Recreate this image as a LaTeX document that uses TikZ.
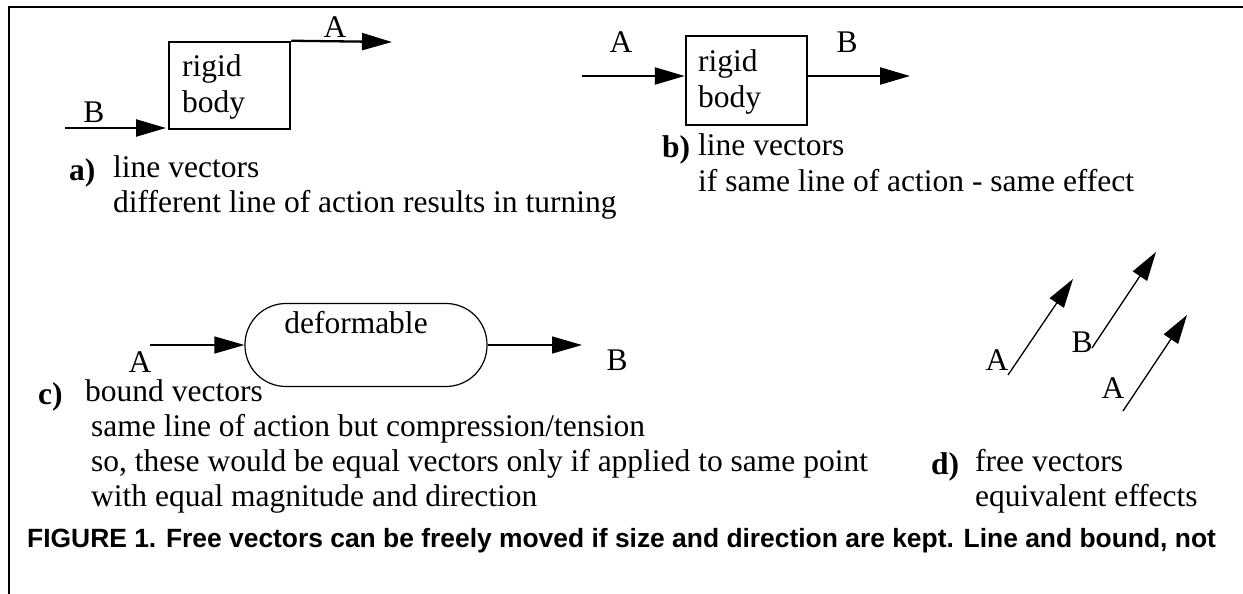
\documentclass[tikz,border=0pt]{standalone}
\usepackage{fontspec}
\setmainfont{Liberation Serif}
\newfontfamily\capfont{Liberation Sans}
\usetikzlibrary{arrows.meta}
\tikzset{
  txt/.style={anchor=base west, inner sep=0pt, font=\fontsize{31.5}{35}\selectfont},
  lbl/.style={anchor=base, inner sep=0pt, font=\fontsize{31.5}{35}\selectfont},
  tag/.style={anchor=base west, inner sep=0pt, font=\fontsize{31.5}{35}\selectfont\bfseries},
  bodybox/.style={draw, line width=2.5pt, minimum width=121pt, minimum height=87pt, inner sep=0pt},
  thickvec/.style={line width=2.3pt, -{Triangle[length=30pt,width=17pt]}},
  thinvec/.style={line width=1.3pt, -{Triangle[length=30pt,width=17pt]}},
  freevec/.style={line width=1.3pt, -{Triangle[length=29pt,width=17pt]}},
  stadium/.style={draw, line width=1.2pt, rounded corners=41pt, minimum width=242pt, minimum height=83pt, inner sep=0pt},
  frameline/.style={line width=2.5pt}
}
\begin{document}
\begin{tikzpicture}[x=1pt, y=-1pt]
\useasboundingbox (0,0) rectangle (1243,594);
% frame
\coordinate (fTL) at (9,7);
\coordinate (fTR) at (1243,7);
\coordinate (fBL) at (9,594);
\draw[frameline] (fTR) -- (fTL) -- (fBL);

% ---------- panel a ----------
\node[bodybox] (boxa) at (229.5,85.5) {};
\node[txt] (arig) at (182,77) {rigid};
\node[txt] (abod) at (182,112) {body};
\coordinate (aBstart) at (65,128);
\coordinate (aBend) at (166,128);
\draw[thickvec] (aBstart) -- (aBend);
\node[lbl] (aBl) at (94,122) {B};
\coordinate (aAend) at (392,42);
\draw[thickvec] (boxa.north east) -- (aAend);
\node[lbl] (aAl) at (335,38) {A};
\node[tag] (atag) at (69,180) {a)};
\node[txt] (at1) at (113,177) {line vectors};
\node[txt] (at2) at (113,212) {different line of action results in turning};

% ---------- panel b ----------
\node[bodybox, minimum height=89pt] (boxb) at (746.5,80.5) {};
\node[txt] (brig) at (698,72) {rigid};
\node[txt] (bbod) at (698,107) {body};
\coordinate (bAstart) at (582,76);
\coordinate (bBend) at (910,76);
\draw[thickvec] (bAstart) -- (bAstart -| boxb.west);
\draw[thickvec] (bAstart -| boxb.east) -- (bBend);
\node[lbl] (bAl) at (621,53) {A};
\node[lbl] (bBl) at (847,53) {B};
\node[tag] (btag) at (662,157) {b)};
\node[txt] (bt1) at (698,155) {line vectors};
\node[txt] (bt2) at (698,191) {if same line of action - same effect};

% ---------- panel c ----------
\node[stadium] (defo) at (366,345) {};
\node[lbl] (deft) at (356,333) {deformable};
\coordinate (cAstart) at (150,345);
\coordinate (cBend) at (582,345);
\draw[thinvec] (cAstart) -- (defo.west);
\draw[thinvec] (defo.east) -- (cBend);
\node[lbl] (cAl) at (140,372) {A};
\node[lbl] (cBl) at (617,370) {B};
\node[tag] (ctag) at (38,404) {c)};
\node[txt] (ct1) at (85,401) {bound vectors};
\node[txt] (ct2) at (91,436) {same line of action but compression/tension};
\node[txt] (ct3) at (91,471) {so, these would be equal vectors only if applied to same point};
\node[txt] (ct4) at (91,506) {with equal magnitude and direction};

% ---------- panel d ----------
\coordinate (d1s) at (1008,375);
\coordinate (d1e) at (1073,279);
\coordinate (d2s) at (1092,348);
\coordinate (d2e) at (1156,252);
\coordinate (d3s) at (1123,411);
\coordinate (d3e) at (1187,315);
\draw[freevec] (d1s) -- (d1e);
\draw[freevec] (d2s) -- (d2e);
\draw[freevec] (d3s) -- (d3e);
\node[lbl] (d1l) at (997,370) {A};
\node[lbl] (d2l) at (1082,352) {B};
\node[lbl] (d3l) at (1113,398) {A};
\node[tag] (dtag) at (931,474) {d)};
\node[txt] (dt1) at (975,471) {free vectors};
\node[txt] (dt2) at (975,506) {equivalent effects};

% ---------- caption ----------
\node[anchor=base west, inner sep=0pt, font=\capfont\bfseries\fontsize{26.4}{30}\selectfont] (cap) at (27,547)
  {FIGURE 1. Free vectors can be freely moved if size and direction are kept. Line and bound, not};
\end{tikzpicture}
\end{document}
